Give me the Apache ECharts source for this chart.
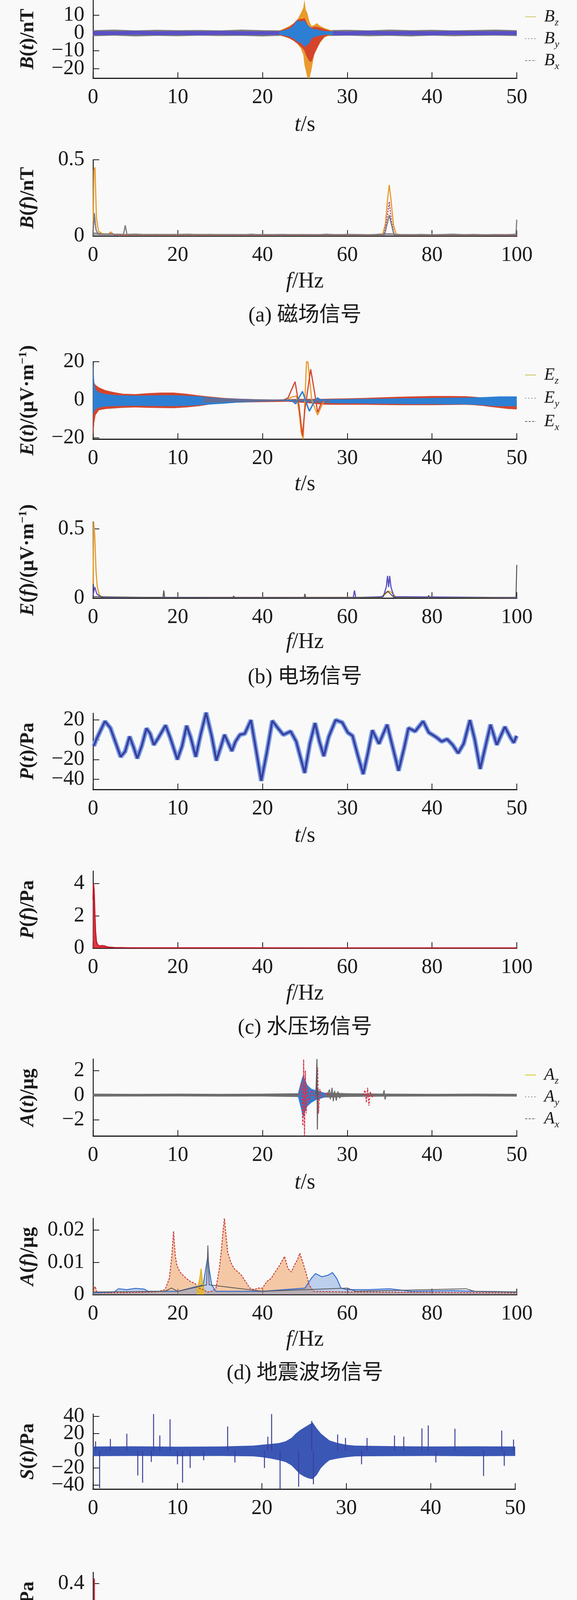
<!DOCTYPE html>
<html><head><meta charset="utf-8">
<script src="https://cdn.jsdelivr.net/npm/echarts/dist/echarts.min.js"></script>
<style>html,body{margin:0;padding:0;background:#f9f9f9}#c{width:1476px;height:5378px}</style>
</head><body><div id="c"></div>
<script>
// ================= DATA =================
const captions = ['(a) 磁场信号','(b) 电场信号','(c) 水压场信号','(d) 地震波场信号','(e) 声场信号','(f) 交流磁场信号'];

// ---- (a) magnetic field, time ----
const aBaseT  = [0,2.5,5,7.5,10,12.5,15,17.5,20,22.5,25,27.5,30,32.5,35,37.5,40,42.5,45,47.5,50];
const aGrayHi = [1.6,1.9,1.5,1.8,1.6,1.7,1.5,1.9,1.6,1.5,1.5,1.6,1.8,1.5,1.9,1.6,1.8,1.5,1.7,1.9,1.6];
const aGrayLo = [-1.8,-1.5,-1.9,-1.6,-1.8,-1.5,-1.7,-1.6,-1.9,-1.5,-1.5,-1.7,-1.5,-1.8,-1.6,-1.9,-1.5,-1.8,-1.6,-1.5,-1.7];
const aPurpHi = [1.1,1.0,1.2,0.9,1.1,1.0,1.2,1.0,0.9,1.0,1.0,1.1,0.9,1.2,1.0,1.1,0.9,1.2,1.0,1.1,1.0];
const aPurpLo = [-1.2,-1.1,-1.0,-1.2,-1.1,-1.3,-1.0,-1.2,-1.1,-1.0,-1.0,-1.2,-1.3,-1.0,-1.2,-1.1,-1.3,-1.0,-1.2,-1.1,-1.2];
const aBurstT = [22.0,22.6,23.2,23.7,24.1,24.5,24.8,24.95,25.1,25.3,25.55,25.8,26.1,26.4,26.8,27.3,27.8,28.3];
const aBzHi = [1.4,2.6,4.0,5.5,7.5,11.0,14.0,18.5,13.0,11.0,6.0,4.0,4.5,5.5,4.0,2.8,2.0,1.2];
const aBzLo = [-1.4,-2.2,-3.2,-4.5,-6.0,-8.5,-12.0,-18.0,-21.0,-25.3,-25.3,-20.0,-12.0,-9.0,-5.5,-2.5,-1.5,-1.0];
const aByHi = [1.2,2.2,3.5,5.5,7.5,8.0,8.0,8.5,7.0,5.0,3.5,3.0,3.5,3.5,3.0,2.2,1.5,1.0];
const aByLo = [-1.2,-2.0,-3.0,-4.5,-6.0,-7.5,-9.0,-10.0,-12.0,-14.0,-16.0,-16.0,-12.0,-9.0,-5.0,-2.2,-1.2,-0.9];
const aBxHi = [1.0,1.6,2.5,4.5,7.0,6.5,6.8,6.9,6.0,4.5,3.5,2.6,2.2,2.0,1.5,1.1,1.0,1.0];
const aBxLo = [-1.0,-1.5,-2.2,-3.3,-5.0,-5.5,-7.0,-7.7,-7.5,-6.5,-5.5,-3.0,-2.2,-2.0,-1.5,-1.1,-1.0,-1.0];
// ---- (a) spectrum ----
const aNoiseF = [0,2.5,5,7.5,10,12.5,15,17.5,20,22.5,25,27.5,30,32.5,35,37.5,40,42.5,45,47.5,50,52.5,55,57.5,60,62.5,65,67.5,70,72.5,75,77.5,80,82.5,85,87.5,90,92.5,95,97.5,100];
const aNoiseV = [0.02,0.015,0.012,0.010,0.013,0.009,0.011,0.008,0.010,0.012,0.009,0.011,0.008,0.010,0.009,0.012,0.008,0.010,0.011,0.009,0.010,0.008,0.012,0.009,0.011,0.010,0.008,0.012,0.015,0.010,0.009,0.011,0.008,0.010,0.012,0.009,0.011,0.008,0.010,0.009,0.012];
const aSpecZ = [[0,0.03],[0.2,0.43],[0.45,0.45],[0.8,0.12],[1.3,0.03],[2.5,0.01],[3.6,0.012],[4.2,0.026],[4.8,0.01],[6,0.006],[68.3,0.006],[69.0,0.08],[69.5,0.24],[69.9,0.335],[70.3,0.24],[70.9,0.07],[71.6,0.006],[100,0.006]];
const aSpecY = [[0,0.02],[0.3,0.12],[0.8,0.03],[1.5,0.01],[3.8,0.01],[4.3,0.02],[5,0.006],[68.6,0.006],[69.3,0.1],[69.9,0.225],[70.4,0.1],[71.1,0.006],[100,0.004]];
const aSpecX = [[0,0.02],[0.3,0.15],[0.7,0.04],[1.2,0.012],[7.2,0.01],[7.6,0.07],[8.0,0.01],[68.8,0.008],[69.5,0.09],[69.9,0.137],[70.3,0.09],[71,0.008],[99.8,0.008],[100,0.107]];

// ---- (b) electric field, time ----
const bT      = [0,0.15,0.3,0.7,1.5,2.5,3.5,5,6.5,8,9.5,11,12.5,14,15.5,17,18.5,20,21.5,23,24.5,26,27,28,30,32,34,36,38,40,42,44,45,46,47,48,49,50];
const bRedHi  = [12,9,7.8,6.5,5.0,4.0,3.2,3.0,3.5,3.8,3.8,3.2,2.3,1.6,1.0,0.6,0.4,0.2,0.1,0.3,0.5,0.5,0.5,0.6,0.8,1.0,1.3,1.6,1.8,2.0,2.0,1.9,1.6,1.2,0.6,0.3,0.3,0.4];
const bRedLo  = [-20.6,-12,-8,-5.5,-4.8,-4.5,-4.2,-4.0,-4.2,-4.3,-4.4,-4.0,-3.3,-2.3,-1.8,-1.5,-1.3,-1.2,-1.1,-1.0,-1.5,-2.0,-2.5,-2.6,-2.6,-2.6,-2.7,-2.8,-2.8,-2.8,-2.7,-2.6,-2.8,-3.2,-3.8,-4.3,-4.8,-5.0];
const bBlueHi = [20,9,5.5,3.8,3.0,2.5,2.3,2.2,2.3,2.4,2.4,2.2,1.8,1.2,0.8,0.5,0.3,0.1,0.0,-0.2,0.0,0.1,0.2,0.3,0.4,0.5,0.6,0.8,0.9,1.0,1.1,1.2,1.3,1.4,1.6,1.8,1.8,1.8];
const bBlueLo = [-8,-6,-5,-4.0,-3.5,-3.3,-3.2,-3.1,-3.2,-3.3,-3.3,-3.2,-2.8,-2.4,-2.0,-1.5,-1.2,-0.9,-0.7,-0.6,-1.0,-1.3,-1.6,-1.8,-1.9,-2.0,-2.1,-2.2,-2.3,-2.3,-2.4,-2.4,-2.6,-2.8,-3.2,-3.4,-3.4,-3.4];
const bGrayT  = [13,15,17,19,21,22.5,24,26,28];
const bGrayHi = [1.0,0.7,0.5,0.3,0.2,0.2,0.3,0.4,0.5];
const bGrayLo = [-1.6,-1.3,-1.1,-1.0,-0.8,-0.7,-0.8,-1.0,-1.2];
const bBurstY = [[22.5,0],[23.0,1.0],[23.84,9.5],[24.3,-3],[24.71,-19],[25.0,-5],[25.68,16],[26.1,5],[26.5,-6.6],[26.9,-2],[27.3,0]];
const bBurstZ = [[22.8,0],[23.5,1.5],[24.0,2],[24.3,-6],[24.55,-16.8],[24.8,-20.6],[25.19,20.0],[25.35,20.0],[25.8,0],[26.49,-8],[26.97,-3.2],[27.3,0]];
const bBurstX = [[22.5,0],[23.5,-0.5],[23.9,-2.1],[24.71,4.4],[25.2,-2],[25.52,-5.9],[26.1,-1],[26.49,1.0],[26.97,-0.4],[27.5,0]];
// ---- (b) spectrum ----
const bSpecZ = [[0,0.1],[0.15,0.55],[0.4,0.45],[0.7,0.2],[1.0,0.08],[1.5,0.02],[2.5,0.005],[68,0.005],[69,0.03],[69.8,0.05],[70.5,0.04],[71.5,0.005],[100,0.003]];
const bSpecY = [[0,0.02],[0.4,0.08],[0.9,0.03],[2,0.005],[61.4,0.003],[61.7,0.055],[62,0.003],[68.5,0.01],[69.2,0.08],[69.5,0.16],[69.75,0.08],[70.0,0.16],[70.3,0.08],[71,0.01],[100,0.003]];
const bSpecX = [[0,0.01],[16.5,0.003],[16.7,0.055],[16.9,0.003],[33,0.003],[33.2,0.015],[33.4,0.003],[49.8,0.003],[50,0.03],[50.2,0.003],[68,0.005],[69.5,0.05],[71,0.005],[79,0.003],[79.2,0.02],[79.4,0.003],[99.8,0.005],[100,0.24]];

// ---- (c) hydraulic pressure ----
const cT = [0.09,0.40,1.40,2.05,3.26,3.78,4.31,4.78,5.22,5.74,6.30,6.74,7.17,7.69,8.56,9.08,9.95,10.51,11.04,11.51,12.12,12.69,13.34,13.99,14.55,15.07,15.51,15.94,16.38,16.81,17.33,17.90,18.63,19.20,19.85,20.50,21.15,21.80,22.45,23.32,23.97,24.97,25.58,26.19,26.71,27.23,27.80,28.62,29.40,30.05,30.62,31.23,31.88,32.44,32.96,33.74,34.70,35.39,36.05,36.70,37.22,38.00,38.95,39.61,40.47,41.13,41.78,42.43,43.08,43.73,44.47,45.03,45.68,46.25,46.90,47.64,48.59,49.29,49.64,49.98];
const cP = [-6.4,0.5,18.6,11.8,-17.3,-12.0,3.2,-7.5,-18.9,-6.4,11.4,6.1,-5.2,1.6,14.5,2.7,-20.0,-6.4,14.1,2.7,-17.3,5.0,27.3,3.9,-21.1,-7.5,5.0,-3.0,-11.4,-1.8,5.0,6.1,19.8,-8.6,-41.6,-13.2,19.1,11.8,5.0,8.4,-1.8,-33.6,-4.1,16.8,-1.8,-16.6,2.7,19.8,17.5,7.3,3.9,-15.5,-34.8,-13.2,9.5,-4.1,15.2,-8.6,-31.4,-8.6,11.8,8.4,18.6,7.3,2.7,-1.8,0.5,-5.2,-13.6,-4.1,19.8,0.5,-29.5,-8.6,15.2,-5.2,13.0,1.6,-3.0,3.9];
const cSpec = [[0,3.0],[0.1,4.0],[0.25,3.6],[0.45,2.0],[0.6,1.0],[0.8,0.4],[1.1,0.2],[1.6,0.12],[2.2,0.15],[2.8,0.12],[3.5,0.06],[5,0.03],[8,0.02],[15,0.015],[30,0.01],[60,0.008],[100,0.008]];

// ---- (d) seismic wave ----
const dBaseT  = [0,5,10,15,20,24,28,30,35,40,45,50];
const dBaseHi = [0.12,0.10,0.12,0.10,0.12,0.15,0.20,0.15,0.12,0.10,0.12,0.10];
const dBaseLo = [-0.12,-0.11,-0.10,-0.12,-0.11,-0.15,-0.20,-0.14,-0.12,-0.11,-0.10,-0.12];
const dBlueT  = [24.2,24.5,24.7,24.85,25.0,25.3,25.8,26.3,26.8,27.5];
const dBlueHi = [0.2,1.0,1.5,1.6,1.3,0.8,0.5,0.4,0.3,0.15];
const dBlueLo = [-0.2,-1.0,-1.6,-1.8,-1.4,-0.9,-0.6,-0.4,-0.3,-0.15];
const dLateG  = [[27.6,0],[27.9,0.45],[28.0,-0.35],[28.2,0.6],[28.35,-0.5],[28.5,0.35],[28.7,-0.45],[28.9,0.3],[29.1,-0.25],[29.4,0.15],[29.6,0]];
const dLateR  = [[31.8,0],[32.1,0.4],[32.25,-0.6],[32.4,0.6],[32.55,-0.86],[32.7,0.3],[32.9,-0.2],[33.1,0]];
const dLateS  = [[34.2,0],[34.35,0.4],[34.45,-0.35],[34.6,0]];
const dRedY   = [[24.3,0],[24.6,1.0],[24.75,-2.5],[24.85,2.9],[24.95,-3.32],[25.05,2.0],[25.15,-1.5],[25.3,0.8],[25.5,-0.6],[25.8,0.4],[26.2,-0.3],[26.4,1.2],[26.5,2.25],[26.6,-1.5],[26.75,0.5],[27.0,-0.2],[27.5,0.2],[28,0]];
const dGrayX  = [[26.3,0],[26.42,2.94],[26.47,-2.8],[26.52,0.5],[26.6,0]];
// ---- (d) spectrum ----
const dSpecY = [[0,0.001],[0.5,0.0025],[1,0.0005],[5,0.0005],[15,0.0008],[17,0.0015],[18,0.005],[18.6,0.012],[19.0,0.0196],[19.4,0.012],[19.8,0.009],[20.5,0.007],[21.2,0.006],[22,0.005],[23,0.004],[24,0.0035],[25,0.002],[26,0.0015],[27,0.0008],[28,0.001],[29,0.002],[29.8,0.008],[30.3,0.014],[30.7,0.02],[31.0,0.0236],[31.4,0.018],[31.8,0.013],[32.5,0.01],[33.3,0.008],[34.2,0.007],[35,0.006],[36,0.004],[37,0.002],[38,0.0015],[39,0.002],[40,0.002],[41,0.004],[42,0.005],[43,0.007],[44,0.009],[45.2,0.0118],[46,0.008],[46.8,0.007],[47.5,0.009],[48.3,0.011],[48.8,0.0128],[49.5,0.01],[50.2,0.007],[51,0.003],[52,0.001],[60,0.0008],[100,0.0005]];
const dSpecX = [[0,0.0005],[5,0.0008],[6,0.0018],[8,0.0015],[10,0.0019],[12,0.0017],[13,0.001],[20,0.001],[26,0.003],[26.6,0.008],[27.1,0.0118],[27.4,0.008],[28,0.003],[29,0.001],[40,0.001],[50,0.002],[51.5,0.005],[52.5,0.0065],[54,0.0055],[55.5,0.006],[56.5,0.0068],[57.5,0.005],[58.5,0.002],[60,0.0015],[65,0.0015],[70,0.0018],[75,0.001],[85,0.0012],[90,0.001],[100,0.0008]];
const dSpecZ = [[24.5,0.001],[25.2,0.005],[25.5,0.008],[25.8,0.004],[26.3,0.001]];
const dSpecG = [[0,0.0008],[17,0.001],[18.5,0.002],[20,0.001],[26.8,0.003],[27.1,0.0152],[27.4,0.003],[40,0.001],[60,0.002],[62,0.001],[88,0.0018],[90,0.001],[100,0.0008]];

// ---- (e) acoustic ----
const eBaseT  = [0,5,10,15,19,20,21,22,22.8,23.5,24,24.5,25,25.5,26,26.5,27,27.5,28,29,30,31,35,40,45,50];
const eBaseHi = [5,5.2,4.8,5,6,7,8,9,11,15,20,24,27,30,33,26,20,16,12,9,7,6,5.5,5,5.2,5];
const eBaseLo = [-6.2,-6,-6.4,-6,-6.5,-7.5,-9,-11,-13,-17,-22,-27,-30,-32,-33,-28,-20,-15,-11,-9,-7.5,-6.5,-6.2,-6,-6.3,-6];
const eSpikeT = [0.3,0.78,2.05,4.0,5.3,5.87,6.9,7.17,7.91,9.12,10.0,10.6,11.5,13.1,15.94,16.8,20.3,20.7,21.15,22.15,24.35,25.9,26.1,28.97,29.9,31.8,32.45,35.7,36.8,38.95,39.7,40.6,42.86,46.25,48.4,48.7,49.8];
const eSpikeV = [11,-43.6,13.8,19.8,-28.7,-37,-13,44,17.8,36.6,-15.7,-37,-20,-11,28.2,-13.6,-20,16.4,44,-45,-41.8,34.7,-39,19,15,-15.7,15,17.8,16.4,26,29.5,-13.6,25.6,-29.2,23.5,-17.5,13];
const eFreqF = [0,1,2,3,4,5,6,7,8,9,10,11,12,13,14,15,16,17,18,19,20,21,22,23,24,25,26,27,28,29,30,31,32,33,34,35,36,37,38,39,40,41,42,43,44,45,46,47,48,49,50,51,52,53,54,55,56,57,58,59,60,61,62,63,64,65,66,67,68,69,70,71,72,73,74,75,76,77,78,79,80,81,82,83,84,85,86,87,88,89,90,91,92,93,94,95,96,97,98,99,100];
const eFreqV = [0.14,0.06,0.13,0.05,0.12,0.04,0.10,0.05,0.11,0.06,0.12,0.05,0.13,0.07,0.14,0.06,0.13,0.08,0.14,0.06,0.12,0.05,0.13,0.06,0.11,0.05,0.12,0.04,0.10,0.05,0.11,0.05,0.09,0.02,0.02,0.05,0.12,0.06,0.11,0.05,0.12,0.06,0.13,0.07,0.12,0.06,0.14,0.07,0.13,0.08,0.14,0.06,0.12,0.05,0.11,0.06,0.13,0.05,0.12,0.06,0.11,0.05,0.12,0.06,0.11,0.05,0.12,0.06,0.10,0.13,0.12,0.10,0.05,0.11,0.05,0.10,0.06,0.11,0.05,0.10,0.06,0.11,0.05,0.12,0.06,0.13,0.07,0.12,0.08,0.13,0.06,0.12,0.05,0.11,0.06,0.12,0.05,0.11,0.06,0.10,0.11];
const eFSpikeF = [0.3,14.2,17.2,19.7,24.1,38.2,48.3,49.3,56.1,87.9,96.3];
const eFSpikeV = [0.43,0.18,0.22,0.20,0.175,0.16,0.19,0.227,0.18,0.175,0.15];
const ePeak34 = [[32.8,0.04],[33.5,0.2],[34.0,0.29],[34.5,0.2],[35.2,0.04]];
const ePeak70 = [[68.5,0.08],[69.5,0.16],[70.1,0.18],[70.7,0.16],[71.5,0.08]];

// ---- (f) AC magnetic ----
const fBaseT  = [0,0.4,0.8,2,5,10,15,20,25,30,35,40,45,50];
const fBaseHi = [0,0.3,0.6,0.7,0.8,0.7,0.8,0.7,0.8,0.7,0.8,0.7,0.8,0.7];
const fBaseLo = [-1.8,-1.5,-1.0,-0.8,-0.7,-0.8,-0.7,-0.8,-0.7,-0.8,-0.7,-0.8,-0.7,-0.8];
const fBlueT  = [0,0.4,0.8];
const fBlueHi = [0,0,-0.2];
const fBlueLo = [-1.8,-1.5,-1.0];
const fBurstT = [22.0,22.6,23.2,23.7,24.15,24.6,25.0,25.4,25.9,26.4,27.0,27.7,28.5,29.2];
const fBzHi = [0.8,1.5,2.5,4.5,9.0,12.0,15.5,10.0,7.3,5.0,3.3,2.0,1.5,0.8];
const fBzLo = [-0.8,-1.5,-2.5,-4.5,-8.4,-12,-18.8,-12,-9.5,-6,-3.7,-2,-1.2,-0.8];
const fByHi = [0.8,1.2,2.2,3.5,6.0,7.5,8.0,7.5,6.0,4.5,3.5,2.2,1.5,0.8];
const fByLo = [-0.8,-1.2,-2.2,-3.5,-7.0,-9.0,-11,-10,-8,-5.5,-3.5,-2.0,-1.0,-0.8];
const fBxHi = [0.6,1.0,1.8,2.8,4.0,6.0,7.0,5.5,3.5,2.5,1.5,0.8,0.6,0.6];
const fBxLo = [-0.6,-1.0,-1.8,-2.8,-4.0,-6.5,-8.0,-6.0,-3.5,-2.5,-1.5,-0.8,-0.6,-0.6];
const fSpecZ = [[0,0.05],[0.2,0.266],[0.5,0.2],[0.9,0.05],[1.5,0.02],[3,0.015],[4,0.03],[5,0.01],[65.8,0.003],[66.5,0.05],[67.1,0.3],[67.6,0.427],[68.1,0.3],[68.7,0.05],[69.3,0.003],[100,0.003]];
const fSpecY = [[0,0.02],[0.3,0.1],[0.8,0.03],[2,0.006],[66.6,0.005],[67.2,0.15],[67.6,0.25],[68.0,0.15],[68.6,0.005],[100,0.003]];
const fSpecX = [[0,0.02],[0.3,0.105],[0.8,0.03],[2,0.012],[7.2,0.01],[7.6,0.113],[8.0,0.01],[11.2,0.008],[11.5,0.03],[11.8,0.008],[66.3,0.01],[67.0,0.3],[67.5,0.449],[68.0,0.25],[68.8,0.02],[99.8,0.01],[100,0.06]];

// axis ranges & tick labels
const yRanges = [[-25.3,18.5],[0,0.5],[-20.6,20],[0,0.55],[-50.3,26.7],[0,4.77],[-3.32,2.94],[0,0.0236],[-44.5,42.7],[0,0.469],[-20.5,20],[0,0.5]];
const yTicks = [[-20,-10,0,10],[0,0.5],[-20,0,20],[0,0.5],[-40,-20,0,20],[0,2,4],[-2,0,2],[0,0.01,0.02],[-40,-20,0,20,40],[0,0.2,0.4],[-20,0,20],[0,0.5]];

// ================= STYLE / LAYOUT =================
const SERIF = '"Liberation Serif","Times New Roman","Noto Sans CJK SC",serif';
const INK = '#1a1a1a';
const C = {orange:'#E89B2C', red:'#D4452C', blue:'#2D7FD3', purple:'#5A4FC6', gray:'#7d7d7d', magenta:'#B24C8E', indigo:'#3a3c9c'};
const grids = [
  {left:238, top:0,    width:1084, height:200},
  {left:238, top:409,  width:1084, height:195},
  {left:238, top:926,  width:1084, height:198},
  {left:238, top:1336, width:1084, height:195},
  {left:238, top:1826, width:1084, height:195},
  {left:238, top:2230, width:1084, height:197},
  {left:238, top:2711, width:1084, height:197},
  {left:238, top:3119, width:1084, height:195},
  {left:238, top:3620, width:1080, height:192},
  {left:238, top:4025, width:1080, height:194},
  {left:238, top:4538, width:1076, height:199},
  {left:238, top:4949, width:1076, height:196}
];
const yNames = [
  '{bi|B}{b|(}{bi|t}{b|)/nT}','{bi|B}{b|(}{bi|f}{b|)/nT}',
  '{bi|E}{b|(}{bi|t}{b|)/(μV·m}{sup|−1}{b|)}','{bi|E}{b|(}{bi|f}{b|)/(μV·m}{sup|−1}{b|)}',
  '{bi|P}{b|(}{bi|t}{b|)/Pa}','{bi|P}{b|(}{bi|f}{b|)/Pa}',
  '{bi|A}{b|(}{bi|t}{b|)/μg}','{bi|A}{b|(}{bi|f}{b|)/μg}',
  '{bi|S}{b|(}{bi|t}{b|)/Pa}','{bi|S}{b|(}{bi|f}{b|)/Pa}',
  '{bi|B}{b|(}{bi|t}{b|)/nT}','{bi|B}{b|(}{bi|f}{b|)/nT}'
];
const xNameGaps = [92,89,88,85,91,89,92,88,0,92,93,89];
const captionY = [809,1735,2632,3517,4423,5345];

function fmt(v){ return String(v).replace('-', '−'); }
// duplicate end values: the axis hides an overlapping end label, so the hidden one is a duplicate
function withEnds(t){ return [t[0]].concat(t, [t[t.length-1]]); }

const xAxes = grids.map((g,i)=>{
  const isT = i%2===0;
  return {
    type:'value', gridIndex:i, min:0, max: isT?50:100, interval: isT?10:20,
    axisLine:{show:true, onZero:false, lineStyle:{color:INK, width:3}},
    axisTick:{show:true, inside:true, length:15, lineStyle:{color:INK, width:2}},
    axisLabel:{fontFamily:SERIF, fontSize:54, color:INK, margin:23, formatter: fmt},
    splitLine:{show:false},
    name: i===8 ? '' : (isT ? '{i|t}{n|/s}' : '{i|f}{n|/Hz}'),
    nameLocation:'middle', nameGap: xNameGaps[i],
    nameTextStyle:{color:INK, rich:{
      i:{fontFamily:SERIF, fontStyle:'italic', fontSize:56, color:INK},
      n:{fontFamily:SERIF, fontSize:56, color:INK}}}
  };
});
const yAxes = grids.map((g,i)=>({
  type:'value', gridIndex:i, min:yRanges[i][0], max:yRanges[i][1],
  axisLine:{show:true, onZero:false, lineStyle:{color:INK, width:2.5}},
  axisTick:{show:true, inside:true, length:16, customValues:withEnds(yTicks[i]), lineStyle:{color:INK, width:2}},
  axisLabel:{fontFamily:SERIF, fontSize:54, color:INK, margin:22, customValues:withEnds(yTicks[i]), formatter: fmt},
  splitLine:{show:false},
  name: yNames[i], nameLocation:'middle', nameGap:138, nameRotate:90,
  nameTextStyle:{color:INK, rich:{
    bi:{fontFamily:SERIF, fontWeight:'bold', fontStyle:'italic', fontSize:50, color:INK, lineHeight:56},
    b:{fontFamily:SERIF, fontWeight:'bold', fontSize:50, color:INK, lineHeight:56},
    sup:{fontFamily:SERIF, fontWeight:'bold', fontSize:30, color:INK, verticalAlign:'top', lineHeight:30}}}
}));

// ================= SERIES HELPERS =================
function band(g, xs, lo, hi, color, opacity){
  return {type:'custom', xAxisIndex:g, yAxisIndex:g, clip:true, silent:true,
    data: xs.map((x,k)=>[x, lo[k], hi[k]]), encode:{x:0, y:[1,2]},
    renderItem:function(params, api){
      if (params.dataIndex !== 0) return null;
      const pts = [];
      for (let k=0;k<xs.length;k++) pts.push(api.coord([xs[k], hi[k]]));
      for (let k=xs.length-1;k>=0;k--) pts.push(api.coord([xs[k], lo[k]]));
      return {type:'polygon', shape:{points:pts}, style:{fill:color, opacity:opacity==null?1:opacity}};
    }};
}
function line(g, pts, color, width, type, extra){
  return Object.assign({type:'line', xAxisIndex:g, yAxisIndex:g, data:pts, symbol:'none', silent:true,
    lineStyle:{color:color, width:width, type:type||'solid'}}, extra||{});
}
function spikes(g, xs, vs, color, w){
  return {type:'bar', xAxisIndex:g, yAxisIndex:g, data: xs.map((x,k)=>[x, vs[k]]), barWidth:w, silent:true, itemStyle:{color:color}};
}
function pairs(xs, vs){ return xs.map((x,k)=>[x, vs[k]]); }
function legendDummy(g, name, color, width, type){
  return {type:'line', name:name, xAxisIndex:g, yAxisIndex:g, data:[], symbol:'none', lineStyle:{color:color, width:width, type:type}};
}

const series = [
  legendDummy(0,'aBz','#cfcb6e',4,'solid'), legendDummy(0,'aBy','#8c8c8c',3,[3,5]), legendDummy(0,'aBx','#8c8c8c',3,[6,3]),
  legendDummy(2,'bEz','#c8c05a',4,'solid'), legendDummy(2,'bEy','#8c8c8c',3,[3,5]), legendDummy(2,'bEx','#6f6f6f',3,[6,3]),
  legendDummy(6,'dAz','#d6c820',4,'solid'), legendDummy(6,'dAy','#8c8c8c',3,[3,5]), legendDummy(6,'dAx','#6f6f6f',3,[6,3]),
  legendDummy(10,'fBz','#9a9a9a',4,'solid'), legendDummy(10,'fBy','#8c8c8c',3,[3,5]), legendDummy(10,'fBx','#8c8c8c',3,[6,3]),

  // (a) time
  band(0, aBaseT, aGrayLo, aGrayHi, C.gray),
  band(0, aBaseT, aPurpLo, aPurpHi, C.purple),
  band(0, aBurstT, aBzLo, aBzHi, C.orange),
  band(0, aBurstT, aByLo, aByHi, C.red),
  band(0, aBurstT, aBxLo, aBxHi, C.blue),
  // (a) freq
  line(1, pairs(aNoiseF, aNoiseV), '#6a6a6a', 2, 'solid', {areaStyle:{color:'#8a8a8a', opacity:0.7}}),
  line(1, aSpecZ, C.orange, 3),
  line(1, aSpecY, C.magenta, 3, [4,3]),
  line(1, aSpecX, C.gray, 3),

  // (b) time
  band(2, bT, bRedLo, bRedHi, C.red),
  band(2, bT, bBlueLo, bBlueHi, C.blue),
  band(2, bGrayT, bGrayLo, bGrayHi, '#6d6a8a', 0.8),
  line(2, bBurstZ, C.orange, 3),
  line(2, bBurstY, C.red, 3),
  line(2, bBurstX, C.blue, 3.5),
  // (b) freq
  line(3, bSpecZ, C.orange, 3),
  line(3, bSpecY, '#5a52c0', 3),
  line(3, bSpecX, '#555555', 2.5),

  // (c) time
  line(4, pairs(cT, cP), '#7aa0e6', 12, 'solid', {opacity:0.85}),
  line(4, pairs(cT, cP), C.indigo, 5),
  // (c) freq
  line(5, cSpec, '#c0182a', 3, 'solid', {areaStyle:{color:'#e0202c', opacity:0.9}}),

  // (d) time
  band(6, dBaseT, dBaseLo, dBaseHi, '#6e6e6e'),
  band(6, dBlueT, dBlueLo, dBlueHi, C.blue),
  line(6, dLateG, '#6e6e6e', 2.5),
  line(6, dLateR, '#d8344a', 2.5, [5,3]),
  line(6, dLateS, '#6e6e6e', 2.5),
  line(6, dRedY, '#d8344a', 2.5, [6,3]),
  line(6, dGrayX, '#5a5a5a', 2.5),
  // (d) freq
  line(7, dSpecY, '#c8403a', 2.5, [5,3], {areaStyle:{color:'#f0a060', opacity:0.55}}),
  line(7, dSpecX, '#3a6fd0', 2.5, 'solid', {areaStyle:{color:'#4a80d8', opacity:0.35}}),
  line(7, dSpecZ, '#e0b020', 2.5, 'solid', {areaStyle:{color:'#e8b820', opacity:0.8}}),
  line(7, dSpecG, '#555555', 2),

  // (e) time
  band(8, eBaseT, eBaseLo, eBaseHi, '#3b57b5'),
  spikes(8, eSpikeT, eSpikeV, '#3a3f9a', 2.5),
  // (e) freq
  line(9, pairs(eFreqF, eFreqV), '#c41e2a', 1.5, 'solid', {areaStyle:{color:'#ea2330', opacity:0.92}}),
  spikes(9, eFSpikeF, eFSpikeV, '#d81e2c', 3),
  line(9, ePeak34, '#c41e2a', 3.5, 'solid', {areaStyle:{color:'#ea2330', opacity:0.9}}),
  line(9, ePeak70, '#d41e2c', 3),

  // (f) time
  band(10, fBaseT, fBaseLo, fBaseHi, '#7d7d7d'),
  band(10, fBlueT, fBlueLo, fBlueHi, C.blue),
  band(10, fBurstT, fBzLo, fBzHi, C.orange),
  band(10, fBurstT, fByLo, fByHi, C.red),
  band(10, fBurstT, fBxLo, fBxHi, C.blue),
  // (f) freq
  line(11, pairs(aNoiseF, aNoiseV), '#6a6a6a', 2, 'solid', {areaStyle:{color:'#8a8a8a', opacity:0.7}}),
  line(11, fSpecZ, C.orange, 3),
  line(11, fSpecY, C.magenta, 3, [4,3]),
  line(11, fSpecX, C.gray, 3)
];

const LEG = {aBz:['B','z'],aBy:['B','y'],aBx:['B','x'],bEz:['E','z'],bEy:['E','y'],bEx:['E','x'],
             dAz:['A','z'],dAy:['A','y'],dAx:['A','x'],fBz:['B','z'],fBy:['B','y'],fBx:['B','x']};
function legend(names, left, top, gap){
  return {data:names.map(n=>({name:n, itemStyle:{opacity:0}})), orient:'vertical', left:left, top:top, itemGap:gap,
    itemWidth:28, itemHeight:14, selectedMode:false,
    formatter:n=>'{m|'+LEG[n][0]+'}{s|'+LEG[n][1]+'}',
    textStyle:{padding:[0,0,0,16], rich:{
      m:{fontFamily:SERIF, fontStyle:'italic', fontSize:44, lineHeight:56, color:INK},
      s:{fontFamily:SERIF, fontStyle:'italic', fontSize:26, lineHeight:22, verticalAlign:'bottom', color:INK}}}};
}

const option = {
  backgroundColor:'#f9f9f9',
  animation:false,
  grid: grids,
  xAxis: xAxes,
  yAxis: yAxes,
  legend: [
    legend(['aBz','aBy','aBx'], 1337, 16, 6),
    legend(['bEz','bEy','bEx'], 1337, 933, 9.5),
    legend(['dAz','dAy','dAx'], 1337, 2725, 6),
    legend(['fBz','fBy','fBx'], 1332, 4552, 7.5)
  ],
  graphic: captions.map((t,i)=>({type:'text', x:780, y:captionY[i], silent:true,
    style:{text:t, fontFamily:SERIF, fontSize:54, fill:INK, textAlign:'center', textVerticalAlign:'middle', verticalAlign:'middle'}})),
  series: series
};
const chart = echarts.init(document.getElementById('c'), null, {renderer:'canvas'});
chart.setOption(option);
</script></body></html>
